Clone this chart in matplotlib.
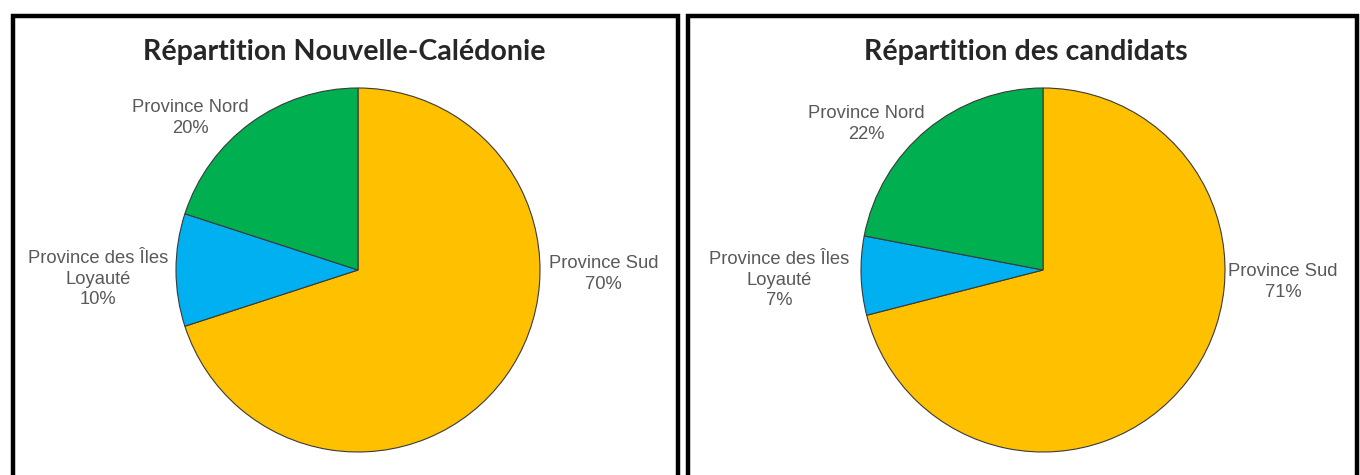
import matplotlib
matplotlib.use("Agg")
import matplotlib.pyplot as plt
from matplotlib.lines import Line2D

W, H = 1360, 475

regions = ["Province Sud", "Province des Îles\nLoyauté", "Province Nord"]
colors = ["#FFC000", "#00B0F0", "#00B050"]

caledonie_pct = [70, 10, 20]
candidats_pct = [71, 7, 22]

titles = ["Répartition Nouvelle-Calédonie", "Répartition des candidats"]

# label offsets relative to the pie centre, in pie radii
label_pos = [
    [(1.35, -0.02), (-1.43, -0.05), (-0.92, 0.835)],
    [(1.32, -0.065), (-1.45, -0.055), (-0.97, 0.80)],
]
title_dx = [-14, -17]

centers = [(358, 270), (1043, 270)]
radius = 182
panels = [(0, 682), (682, 1360)]


def draw_pie(fig, values, title, center, span, offsets, tdx):
    x0, x1 = span
    cx, cy = center
    cy_up = H - cy
    ax = fig.add_axes([x0 / W, 0, (x1 - x0) / W, 1])
    ax.pie(values, colors=colors, startangle=90, counterclock=False,
           wedgeprops=dict(edgecolor="#3a3a3a", linewidth=0.8))
    ax.set_aspect("auto")
    ax.set_xlim((x0 - cx) / radius, (x1 - cx) / radius)
    ax.set_ylim(-cy_up / radius, (H - cy_up) / radius)
    ax.axis("off")
    for name, pct, (dx, dy) in zip(regions, values, offsets):
        ax.text(dx, dy, f"{name}\n{pct}%", ha="center", va="center",
                fontsize=13.2, color="#595959", family="Liberation Sans",
                linespacing=1.3)
    ax.text(tdx / radius, (cy - 60) / radius, title, ha="center", va="baseline",
            fontsize=20.6, fontweight="bold", color="#262626", family="Lato")


fig = plt.figure(figsize=(W / 100, H / 100), dpi=100)

for values, title, center, span, offsets, tdx in zip(
        [caledonie_pct, candidats_pct], titles, centers, panels, label_pos, title_dx):
    draw_pie(fig, values, title, center, span, offsets, tdx)

# black frames around each chart (open at the bottom)
frames = [(12.5, 677.5), (688, 1357)]
top = H - 15.5
for left, right in frames:
    xs = [left / W, left / W, right / W, right / W]
    ys = [0, top / H, top / H, 0]
    fig.add_artist(Line2D(xs, ys, color="black", linewidth=3.2,
                          transform=fig.transFigure, solid_joinstyle="miter"))

fig.savefig("out.png", dpi=100, facecolor="white")
